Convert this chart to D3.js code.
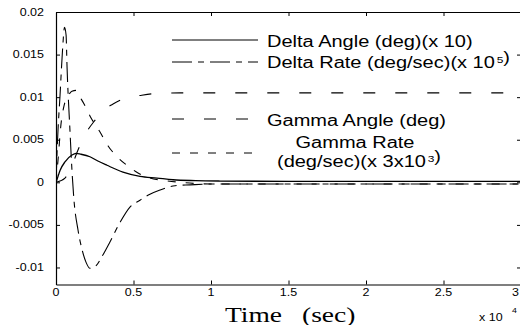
<!DOCTYPE html>
<html>
<head>
<meta charset="utf-8">
<script src="https://cdn.jsdelivr.net/npm/d3@7"></script>
<style>
  body { margin: 0; background: #fff; }
  svg { display: block; }
</style>
</head>
<body>
<svg id="chart" width="520" height="325"></svg>
<script>
// ---- axis ticks (time in units of 1e4 s) ----
const xTicks = [0, 0.5, 1, 1.5, 2, 2.5, 3];
const xTickLabels = ["0", "0.5", "1", "1.5", "2", "2.5", "3"];
const yTicks = [-0.01, -0.005, 0, 0.005, 0.01, 0.015, 0.02];
const yTickLabels = ["-0.01", "-0.005", "0", "0.005", "0.01", "0.015", "0.02"];

// ---- series: Delta Angle (deg)(x 10) ----
const deltaAngleT = [0, 0.006, 0.026, 0.058, 0.103, 0.129, 0.16, 0.219, 0.27, 0.329, 0.432, 0.542, 0.652, 0.755, 0.9, 1.06, 1.5, 2.0, 2.5, 3.0];
const deltaAngleV = [0, 0.0003, 0.0014, 0.0024, 0.0032, 0.0034, 0.0033, 0.0030, 0.0025, 0.0020, 0.0012, 0.0007, 0.0005, 0.0003, 0.0002, 0.00015, 0.0001, 0.0001, 0.0001, 0.0001];

// ---- series: Delta Rate (deg/sec)(x 1e5) ----
const deltaRateT = [0, 0.01, 0.026, 0.042, 0.055, 0.065, 0.071, 0.09, 0.103, 0.116, 0.142, 0.168, 0.194, 0.219, 0.258, 0.297, 0.348, 0.413, 0.477, 0.542, 0.606, 0.671, 0.768, 0.865, 1.0, 1.5, 2.0, 2.5, 3.0];
const deltaRateV = [0, 0.005, 0.0102, 0.0155, 0.0182, 0.0173, 0.0137, 0.0061, 0.0014, -0.0021, -0.0056, -0.0079, -0.0094, -0.0101, -0.0098, -0.0087, -0.0070, -0.0047, -0.0029, -0.0021, -0.0014, -0.0009, -0.0004, -0.0003, -0.0002, -0.0002, -0.0002, -0.0002, -0.0002];

// ---- series: Gamma Angle (deg) ----
const gammaAngleT = [0, 0.058, 0.103, 0.142, 0.194, 0.252, 0.303, 0.368, 0.452, 0.542, 0.626, 0.8, 1.0, 1.5, 2.0, 2.5, 3.0];
const gammaAngleV = [0, 0.0005, 0.0020, 0.0038, 0.0058, 0.0073, 0.0084, 0.0092, 0.0099, 0.0102, 0.0104, 0.0105, 0.0105, 0.0105, 0.0105, 0.0105, 0.0105];

// ---- series: Gamma Rate (deg/sec)(x 3x1e3) ----
const gammaRateT = [0, 0.013, 0.032, 0.052, 0.077, 0.103, 0.129, 0.155, 0.181, 0.219, 0.284, 0.335, 0.4, 0.465, 0.529, 0.606, 0.703, 0.8, 1.0, 1.5, 2.0, 2.5, 3.0];
const gammaRateV = [0, 0.0026, 0.0068, 0.0090, 0.0101, 0.0107, 0.0108, 0.0100, 0.0092, 0.0078, 0.0059, 0.0043, 0.0029, 0.0019, 0.0011, 0.0005, 0.0002, 0.0, -0.0002, -0.0002, -0.0002, -0.0002, -0.0002];

// ---- legend text ("^n" marks a superscript digit) ----
const legendLabels = [
  ["Delta Angle (deg)(x 10)"],
  ["Delta Rate (deg/sec)(x 10^5)"],
  ["Gamma Angle (deg)"],
  ["Gamma Rate", "(deg/sec)(x 3x10^3)"]
];

const series = [
  { t: deltaAngleT, v: deltaAngleV, dash: null,        width: 1.3 },
  { t: deltaRateT,  v: deltaRateV,  dash: "20,6,6,6",  width: 1.1 },
  { t: gammaAngleT, v: gammaAngleV, dash: "12,20",     width: 1.1 },
  { t: gammaRateT,  v: gammaRateV,  dash: "8,10",      width: 1.1 }
];

// ---- layout ----
const svg = d3.select("#chart");
const plotL = 56, plotR = 521, plotT = 12, plotB = 284.5;
const SX = 1.25; // horizontal stretch applied to all lettering

const x = d3.scaleLinear().domain([0, 3]).range([plotL, plotR]);
const y = d3.scaleLinear().domain([-0.012, 0.02]).range([plotB, plotT]);

svg.append("rect").attr("width", 520).attr("height", 325).attr("fill", "#fff");

// frame with inward ticks on all four sides
function styleAxis(g) {
  g.select(".domain").attr("stroke", "#000").attr("stroke-width", 1.2);
  g.selectAll(".tick line").attr("stroke", "#000").attr("stroke-width", 1);
  g.selectAll(".tick text").remove();
}
svg.append("g").attr("transform", `translate(0,${plotB})`)
  .call(d3.axisBottom(x).tickValues(xTicks).tickSizeInner(-4).tickSizeOuter(0)).call(styleAxis);
svg.append("g").attr("transform", `translate(0,${plotT})`)
  .call(d3.axisTop(x).tickValues(xTicks).tickSizeInner(-4).tickSizeOuter(0)).call(styleAxis);
svg.append("g").attr("transform", `translate(${plotL},0)`)
  .call(d3.axisLeft(y).tickValues(yTicks).tickSizeInner(-4).tickSizeOuter(0)).call(styleAxis);
svg.append("g").attr("transform", `translate(${plotR},0)`)
  .call(d3.axisRight(y).tickValues(yTicks).tickSizeInner(-4).tickSizeOuter(0)).call(styleAxis);

// lettering helper: horizontally stretched text
function label(parent, px, py, anchor, size, family) {
  return parent.append("text")
    .attr("transform", `translate(${px},${py}) scale(${SX},1)`)
    .attr("text-anchor", anchor)
    .attr("font-family", family)
    .attr("font-size", size)
    .attr("fill", "#000");
}
function addRich(textSel, s) {
  const parts = s.split(/\^(\d)/);
  parts.forEach((p, i) => {
    if (i % 2 === 0) {
      if (p) textSel.append("tspan").text(p);
    } else {
      textSel.append("tspan").attr("font-size", "0.6em").attr("dy", "-0.55em").attr("dx", "0.15em").text(p);
      textSel.append("tspan").attr("dy", "0.55em").text("");
    }
  });
}

const sans = "'Liberation Sans', Arial, sans-serif";
const tickG = svg.append("g");
yTicks.forEach((v, i) => {
  label(tickG, plotL - 12, y(v) + 3.5, "end", 10, sans).text(yTickLabels[i]);
});
xTicks.forEach((v, i) => {
  // the last label sits at the canvas edge, so it is kept inside it
  const last = i === xTicks.length - 1;
  label(tickG, last ? 519 : x(v), plotB + 11, last ? "end" : "middle", 10, sans).text(xTickLabels[i]);
});

// axis title and exponent
label(svg, 225, 322, "start", 22, "'Liberation Serif', 'Times New Roman', serif").text("Time");
label(svg, 302, 322, "start", 22, "'Liberation Serif', 'Times New Roman', serif").text("(sec)");
label(svg, 479, 321, "start", 10, sans).text("x 10");
label(svg, 512, 313, "start", 7, sans).text("4");

// curves
svg.append("clipPath").attr("id", "plotClip")
  .append("rect").attr("x", plotL).attr("y", plotT).attr("width", plotR - plotL).attr("height", plotB - plotT);
const plot = svg.append("g").attr("clip-path", "url(#plotClip)");
series.forEach(s => {
  const pts = s.t.map((t, i) => [t, s.v[i]]);
  plot.append("path")
    .attr("d", d3.line().x(d => x(d[0])).y(d => y(d[1])).curve(d3.curveMonotoneX)(pts))
    .attr("fill", "none")
    .attr("stroke", "#000")
    .attr("stroke-width", s.width)
    .attr("stroke-dasharray", s.dash);
});

// legend (no box)
const legendRows = [40, 62, 119, 153];
const leg = svg.append("g");
series.forEach((s, i) => {
  leg.append("line")
    .attr("x1", 172).attr("x2", 258)
    .attr("y1", legendRows[i]).attr("y2", legendRows[i])
    .attr("stroke", "#000").attr("stroke-width", 1)
    .attr("stroke-dasharray", s.dash);
});
addRich(label(leg, 267, 47, "start", 16, sans), legendLabels[0][0]);
addRich(label(leg, 267, 68, "start", 16, sans), legendLabels[1][0]);
addRich(label(leg, 267, 126, "start", 16, sans), legendLabels[2][0]);
addRich(label(leg, 355, 148, "middle", 16, sans), legendLabels[3][0]);
addRich(label(leg, 359, 167, "middle", 16, sans), legendLabels[3][1]);
</script>
</body>
</html>
